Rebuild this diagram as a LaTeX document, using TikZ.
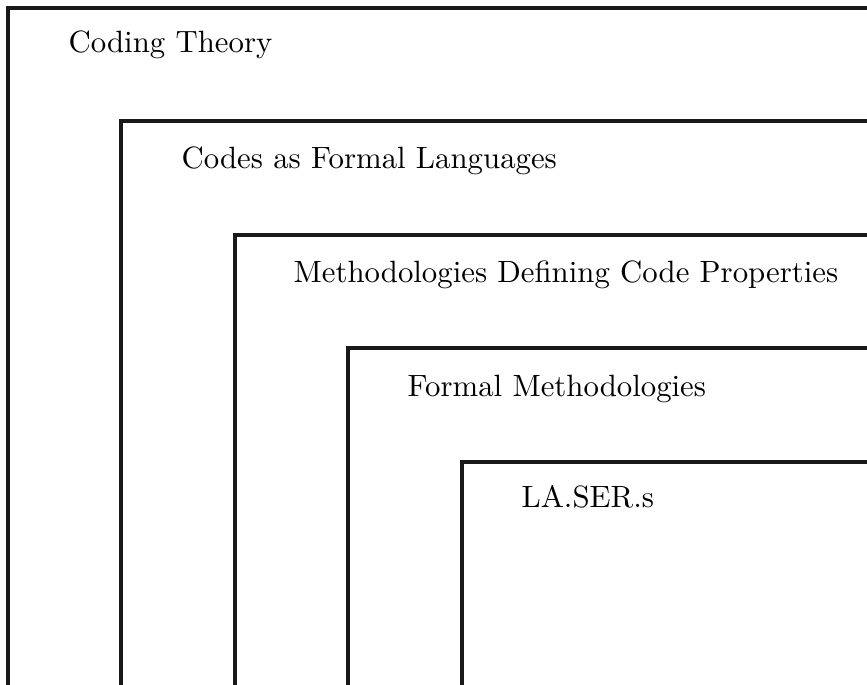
\documentclass[tikz,border=0pt]{standalone}
\begin{document}
\begin{tikzpicture}[x=0.3247pt,y=-0.3247pt,
  frame/.style={draw=black!90,line width=1pt},
  label/.style={anchor=base west,inner sep=0pt,font=\rmfamily}]
  % page area; the nested frames run past its right and bottom edges
  \useasboundingbox (0,0) rectangle (867,685);
  \clip (0,0) rectangle (867,685);
  \draw[frame] (8,8) rectangle (960,760);
  \draw[frame] (121,121) rectangle (960,760);
  \draw[frame] (235,235) rectangle (960,760);
  \draw[frame] (348,348) rectangle (960,760);
  \draw[frame] (462,462) rectangle (960,760);
  % titles of the nested areas
  \node[label] (ct)  at (68,53)   {Coding Theory};
  \node[label] (cfl) at (181,169) {Codes as Formal Languages};
  \node[label] (mdc) at (293,283) {Methodologies Defining Code Properties};
  \node[label] (fm)  at (407,397) {Formal Methodologies};
  \node[label] (las) at (521,508) {LA.SER.s};
\end{tikzpicture}
\end{document}
